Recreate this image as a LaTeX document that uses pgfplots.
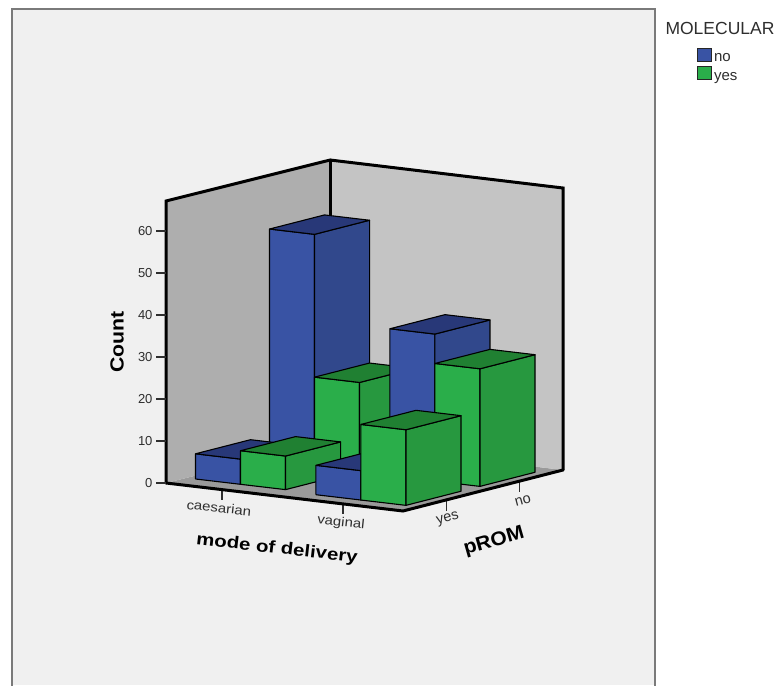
\documentclass[border=0pt]{standalone}
\usepackage{pgfplots}
\pgfplotsset{compat=1.18}
\usepackage{fontspec}
\setmainfont{Liberation Sans}

\definecolor{panel}{HTML}{F0F0F0}
\definecolor{framegray}{HTML}{7A7A7A}
\definecolor{wallleft}{HTML}{AEAEAE}
\definecolor{wallback}{HTML}{C4C4C4}
\definecolor{floorgray}{HTML}{9A9A9A}
\definecolor{inktext}{HTML}{2E2E2E}
\definecolor{blueF}{HTML}{3953A4}
\definecolor{blueS}{HTML}{31488C}
\definecolor{blueT}{HTML}{283878}
\definecolor{greenF}{HTML}{2AAE4A}
\definecolor{greenS}{HTML}{27983F}
\definecolor{greenT}{HTML}{208032}

% One bar: left x, right x, front y, back y, count, front/side/top colours
\newcommand{\cuboid}[8]{%
  \addplot3[barface,fill=#6] coordinates {(#1,#3,0)(#2,#3,0)(#2,#3,#5)(#1,#3,#5)(#1,#3,0)};
  \addplot3[barface,fill=#7] coordinates {(#2,#3,0)(#2,#4,0)(#2,#4,#5)(#2,#3,#5)(#2,#3,0)};
  \addplot3[barface,fill=#8] coordinates {(#1,#3,#5)(#2,#3,#5)(#2,#4,#5)(#1,#4,#5)(#1,#3,#5)};
}
\pgfplotsset{
  barface/.style={draw=black,line width=1.1pt,line join=round,mark=none,forget plot},
  wallface/.style={draw=none,mark=none,forget plot},
  wallline/.style={draw=black,line width=3pt,line join=miter,line cap=round,mark=none,forget plot},
  tickline/.style={draw=inktext,line width=1.2pt,mark=none,forget plot},
}

\begin{document}
\begin{tikzpicture}[x=1pt,y=1pt]
\path[use as bounding box] (0,0) rectangle (778,685);
\fill[white] (0,0) rectangle (778,685);
\fill[panel] (12,0) rectangle (655,676);
\draw[framegray,line width=2pt] (12,-2) -- (12,676) -- (655,676) -- (655,-2);

\begin{axis}[
  at={(166pt,202pt)},anchor=origin,
  x={(237pt,-28pt)},y={(160pt,41pt)},z={(0pt,4.2pt)},
  xmin=0,xmax=1,ymin=0,ymax=1,zmin=0,zmax=67.14,
  hide axis,clip=false,
]
% floor and the two walls
\addplot3[wallface,fill=floorgray] coordinates {(0,0,0)(1,0,0)(1,1,0)(0.012,1.008,0)(0,0,0)};
\addplot3[wallface,fill=wallleft] coordinates {(0,0,0)(0.012,1.008,0)(0.012,1.008,67.14)(0,0,67.14)(0,0,0)};
\addplot3[wallface,fill=wallback] coordinates {(0.012,1.008,0)(1,1,0)(1,1,67.14)(0.012,1.008,67.14)(0.012,1.008,0)};
\addplot3[wallline] coordinates {(0,0,0)(0,0,67.14)(0.012,1.008,67.14)(1,1,67.14)(1,1,0)};
\addplot3[wallline] coordinates {(0.012,1.008,0)(0.012,1.008,67.14)};
% tick marks below the floor
\addplot3[tickline] coordinates {(0.236,0,0)(0.236,0,-2.4)};
\addplot3[tickline] coordinates {(0.747,0,0)(0.747,0,-2.4)};
\addplot3[tickline] coordinates {(1,0.27,0)(1,0.27,-2.6)};
\addplot3[tickline] coordinates {(1,0.73,0)(1,0.73,-2.6)};
\addplot3[wallline] coordinates {(0,0,0)(1,0,0)(1,1,0)};
% pROM = no (back row), painted first
\cuboid{0.040}{0.230}{0.5875}{0.9315}{55}{blueF}{blueS}{blueT}
\cuboid{0.230}{0.420}{0.5875}{0.9315}{21}{greenF}{greenS}{greenT}
\cuboid{0.565}{0.755}{0.5625}{0.9065}{35}{blueF}{blueS}{blueT}
\cuboid{0.755}{0.945}{0.5625}{0.9065}{28}{greenF}{greenS}{greenT}
% pROM = yes (front row)
\cuboid{0.040}{0.230}{0.125}{0.469}{6}{blueF}{blueS}{blueT}
\cuboid{0.230}{0.420}{0.125}{0.469}{8}{greenF}{greenS}{greenT}
\cuboid{0.565}{0.755}{0.100}{0.444}{7}{blueF}{blueS}{blueT}
\cuboid{0.755}{0.945}{0.100}{0.444}{18}{greenF}{greenS}{greenT}
% category names and axis titles
\node[rotate=-6,text=inktext,font=\fontsize{13}{15}\selectfont] at (axis cs:0.2236,0,-4.45) {\scalebox{1.15}[1]{caesarian}};
\node[rotate=-6,text=inktext,font=\fontsize{13}{15}\selectfont] at (axis cs:0.738,0,-4.6) {\scalebox{1.15}[1]{vaginal}};
\node[rotate=15,text=inktext,font=\fontsize{14.5}{16}\selectfont] at (axis cs:1,0.281,-4.64) {yes};
\node[rotate=15,text=inktext,font=\fontsize{14.5}{16}\selectfont] at (axis cs:1,0.75,-4.9) {no};
\node[rotate=-6.5,text=black,font=\fontsize{17}{19}\bfseries\selectfont] at (axis cs:0.468,0,-12.6) {\scalebox{1.2}[1]{mode of delivery}};
\node[rotate=16,text=black,font=\fontsize{19.5}{21}\bfseries\selectfont] at (axis cs:1,0.569,-12.9) {\scalebox{1.08}[1]{pROM}};
\end{axis}

\begin{axis}[
  at={(166pt,202pt)},anchor=origin,
  x=1pt,y=4.2pt,
  xmin=0,xmax=600,ymin=0,ymax=67.14,
  clip=false,
  axis x line=none,axis y line=left,
  y axis line style={draw=none,-},
  ytick={0,10,20,30,40,50,60},
  tick align=outside,major tick length=10pt,
  tick style={draw=inktext,line width=1.2pt},
  yticklabel style={font=\fontsize{13}{15}\selectfont,text=inktext},
  /pgf/number format/assume math mode=true,
  ylabel={\scalebox{1.12}[1]{Count}},
  every axis y label/.style={at={(axis cs:-49,33.6)},rotate=90,anchor=center,font=\fontsize{19}{21}\bfseries\selectfont},
  legend style={at={(axis description cs:0.885,1.544)},anchor=north west,draw=none,fill=none,
    font=\fontsize{15}{17}\selectfont,text=inktext,inner sep=0pt,outer sep=0pt,
    row sep=0.5pt,/tikz/every even column/.append style={column sep=2pt}},
  legend cell align=left,
  legend image code/.code={\draw[#1,draw=black!85,line width=1pt] (0pt,-3pt) rectangle (14pt,10.5pt);},
]
\addlegendimage{fill=blueF}\addlegendentry{no}
\addlegendimage{fill=greenF}\addlegendentry{yes}
\node[anchor=center,text=inktext,font=\fontsize{17.5}{20}\selectfont] at (axis cs:554,108.3) {MOLECULAR};
\end{axis}
\end{tikzpicture}
\end{document}
